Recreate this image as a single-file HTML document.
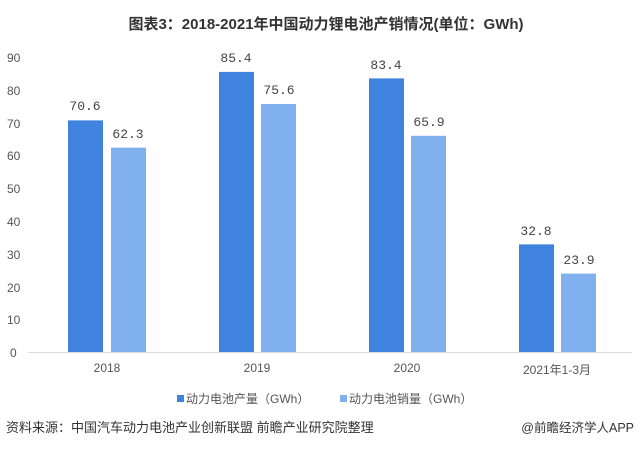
<!DOCTYPE html>
<html><head><meta charset="utf-8"><style>
body{margin:0;background:#fff;}
svg{display:block;font-family:"Liberation Sans","Noto Sans CJK SC",sans-serif;}
</style></head><body>
<svg width="640" height="449" viewBox="0 0 640 449">
<rect width="640" height="449" fill="#fff"/>
<text x="326" y="29" text-anchor="middle" font-size="15" font-weight="bold" fill="#333">图表3：2018-2021年中国动力锂电池产销情况(单位：GWh)</text>
<g font-size="12" fill="#555">
<text x="7" y="62">90</text><text x="7" y="95">80</text><text x="7" y="128">70</text>
<text x="7" y="160">60</text><text x="7" y="193">50</text><text x="7" y="226">40</text>
<text x="7" y="259">30</text><text x="7" y="292">20</text><text x="7" y="324">10</text>
<text x="10" y="357">0</text>
</g>
<line x1="28" y1="352.5" x2="632" y2="352.5" stroke="#ddd" stroke-width="1"/>
<g fill="#3f83de">
<rect x="68" y="120.4" width="35" height="231.6"/>
<rect x="219" y="71.9" width="35" height="280.1"/>
<rect x="369" y="78.4" width="35" height="273.6"/>
<rect x="519" y="244.4" width="35" height="107.6"/>
</g>
<g fill="#80b1ee">
<rect x="111" y="147.6" width="35" height="204.4"/>
<rect x="261" y="104" width="35" height="248"/>
<rect x="411" y="135.8" width="35" height="216.2"/>
<rect x="561" y="273.6" width="35" height="78.4"/>
</g>
<g font-size="13" fill="#444" text-anchor="middle" font-family="Liberation Mono,monospace">
<text x="85" y="110">70.6</text><text x="128" y="138">62.3</text>
<text x="236" y="62">85.4</text><text x="279" y="94">75.6</text>
<text x="386" y="69">83.4</text><text x="429" y="126">65.9</text>
<text x="536" y="235">32.8</text><text x="579" y="264">23.9</text>
</g>
<g font-size="12" fill="#555" text-anchor="middle">
<text x="107" y="372">2018</text><text x="257" y="372">2019</text>
<text x="407" y="372">2020</text><text x="557" y="374">2021年1-3月</text>
</g>
<rect x="177" y="395" width="7" height="7" fill="#3f83de"/>
<text x="186" y="403" font-size="12" fill="#555">动力电池产量（GWh）</text>
<rect x="340" y="395" width="7" height="7" fill="#80b1ee"/>
<text x="349" y="403" font-size="12" fill="#555">动力电池销量（GWh）</text>
<text x="6" y="432" font-size="13" fill="#333">资料来源：中国汽车动力电池产业创新联盟 前瞻产业研究院整理</text>
<text x="634" y="432" font-size="12.5" fill="#333" text-anchor="end">@前瞻经济学人APP</text>
</svg>
</body></html>
